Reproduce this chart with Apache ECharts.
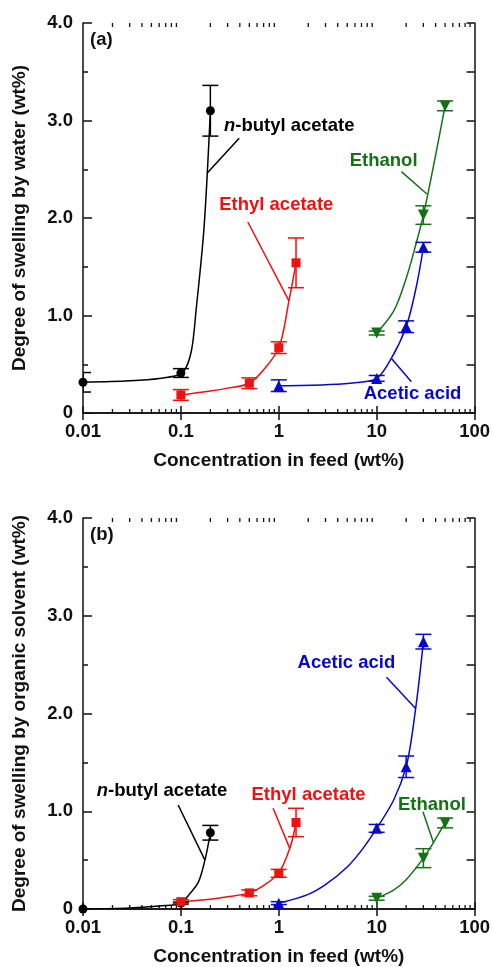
<!DOCTYPE html>
<html>
<head>
<meta charset="utf-8">
<script src="https://cdn.jsdelivr.net/npm/echarts@6/dist/echarts.min.js"></script>
<style>
  html, body { margin: 0; padding: 0; background: #fff; }
  #chart { width: 493px; height: 967px; }
</style>
</head>
<body>
<div id="chart"></div>
<script>
// ---------------- DATA ----------------
const xTickLabels = ['0.01', '0.1', '1', '10', '100'];
const yTickLabels = ['0', '1.0', '2.0', '3.0', '4.0'];
const logMinorTicks = [0.02,0.03,0.04,0.05,0.06,0.07,0.08,0.09,
                       0.2,0.3,0.4,0.5,0.6,0.7,0.8,0.9,
                       2,3,4,5,6,7,8,9,
                       20,30,40,50,60,70,80,90];
const panelLetters = ['(a)', '(b)'];
const yAxisTitles = ['Degree of swelling by water (wt%)', 'Degree of swelling by organic solvent (wt%)'];
const xAxisTitle = 'Concentration in feed (wt%)';
const solvents = ['n-butyl acetate', 'Ethyl acetate', 'Acetic acid', 'Ethanol'];

// Panel (a): swelling by water
const aButylConc = [0.01, 0.1, 0.2];
const aButylVal  = [0.315, 0.41, 3.10];
const aButylErr  = [0.10, 0.045, 0.26];
const aEthylConc = [0.1, 0.5, 1, 1.5];
const aEthylVal  = [0.185, 0.305, 0.67, 1.54];
const aEthylErr  = [0.055, 0.055, 0.06, 0.255];
const aAceticConc = [1, 10, 20, 30];
const aAceticVal  = [0.28, 0.355, 0.885, 1.70];
const aAceticErr  = [0.06, 0.03, 0.06, 0.05];
const aEthanolConc = [10, 30, 50];
const aEthanolVal  = [0.82, 2.03, 3.15];
const aEthanolErr  = [0.02, 0.095, 0.05];
// fitted curves (a)
const aButylFitX = [0.01, 0.03, 0.06, 0.1, 0.114, 0.1285, 0.1445, 0.1717, 0.1945, 0.2];
const aButylFitY = [0.315, 0.33, 0.355, 0.40, 0.475, 0.646, 1.10, 1.88, 2.84, 3.10];
const aEthylFitX = [0.1, 0.2, 0.3, 0.5, 0.72, 1, 1.27, 1.5];
const aEthylFitY = [0.185, 0.225, 0.255, 0.305, 0.458, 0.67, 1.15, 1.54];
const aAceticFitX = [1, 3, 6, 10, 14.1, 20, 25.4, 30];
const aAceticFitY = [0.28, 0.29, 0.31, 0.355, 0.56, 0.885, 1.295, 1.70];
const aEthanolFitX = [10, 15, 20, 25, 30, 50];
const aEthanolFitY = [0.82, 1.05, 1.38, 1.72, 2.03, 3.15];

// Panel (b): swelling by organic solvent
const bButylConc = [0.01, 0.1, 0.2];
const bButylVal  = [0.0, 0.06, 0.78];
const bButylErr  = [0.0, 0.01, 0.075];
const bEthylConc = [0.1, 0.5, 1, 1.5];
const bEthylVal  = [0.075, 0.165, 0.365, 0.885];
const bEthylErr  = [0.02, 0.03, 0.04, 0.145];
const bAceticConc = [1, 10, 20, 30];
const bAceticVal  = [0.06, 0.825, 1.455, 2.735];
const bAceticErr  = [0.015, 0.04, 0.11, 0.075];
const bEthanolConc = [10, 30, 50];
const bEthanolVal  = [0.11, 0.52, 0.88];
const bEthanolErr  = [0.02, 0.097, 0.05];
// fitted curves (b)
const bButylFitX = [0.01, 0.03, 0.06, 0.1, 0.124, 0.15, 0.176, 0.2];
const bButylFitY = [0.0, 0.01, 0.03, 0.06, 0.16, 0.27, 0.50, 0.78];
const bEthylFitX = [0.1, 0.2, 0.3, 0.5, 0.7, 1, 1.295, 1.5];
const bEthylFitY = [0.075, 0.10, 0.125, 0.165, 0.24, 0.37, 0.62, 0.88];
const bAceticFitX = [1, 2, 3, 5, 7, 10, 15, 20, 25, 30];
const bAceticFitY = [0.06, 0.15, 0.25, 0.43, 0.60, 0.825, 1.12, 1.455, 2.05, 2.735];
const bEthanolFitX = [10, 15, 20, 30, 38, 50];
const bEthanolFitY = [0.11, 0.195, 0.30, 0.52, 0.68, 0.88];

// ---------------- STYLE / LAYOUT ----------------
const FONT = '"Liberation Sans", Arial, Helvetica, sans-serif';
const AX = '#111';
const colors = ['#000000', '#f01010', '#0808cc', '#167016'];
const symbols = [
  { symbol: 'circle', size: 9, rotate: 0 },
  { symbol: 'rect', size: 9, rotate: 0 },
  { symbol: 'triangle', size: 11, rotate: 0 },
  { symbol: 'triangle', size: 11, rotate: 180 }
];
const labelTexts = ['{i|n}-butyl acetate', 'Ethyl acetate', 'Acetic acid', 'Ethanol'];

const panels = [
  {
    sets: [
      [aButylConc, aButylVal, aButylErr, aButylFitX, aButylFitY],
      [aEthylConc, aEthylVal, aEthylErr, aEthylFitX, aEthylFitY],
      [aAceticConc, aAceticVal, aAceticErr, aAceticFitX, aAceticFitY],
      [aEthanolConc, aEthanolVal, aEthanolErr, aEthanolFitX, aEthanolFitY]
    ],
    labelAt: [[0.275, 2.944], [0.246, 2.133], [7.36, 0.195], [5.3, 2.585]],
    leaders: [
      [[0.185, 2.458], [0.394, 2.817]],
      [[1.27, 1.15], [0.483, 1.959]],
      [[14.1, 0.561], [22.6, 0.321]],
      [[32.6, 2.246], [17.9, 2.475]]
    ],
    letterAt: [0.01178, 3.826],
    grid: { left: 83, top: 23, width: 392, height: 390 }
  },
  {
    sets: [
      [bButylConc, bButylVal, bButylErr, bButylFitX, bButylFitY],
      [bEthylConc, bEthylVal, bEthylErr, bEthylFitX, bEthylFitY],
      [bAceticConc, bAceticVal, bAceticErr, bAceticFitX, bAceticFitY],
      [bEthanolConc, bEthanolVal, bEthanolErr, bEthanolFitX, bEthanolFitY]
    ],
    labelAt: [[0.0138, 1.21], [0.526, 1.166], [1.553, 2.52], [16.5, 1.064]],
    leaders: [
      [[0.176, 0.50], [0.0938, 1.064]],
      [[1.295, 0.62], [0.875, 1.03]],
      [[25.0, 2.05], [12.6, 2.37]],
      [[38, 0.68], [29.7, 0.995]]
    ],
    letterAt: [0.01178, 3.826],
    grid: { left: 83, top: 518, width: 392, height: 391 }
  }
];

// centripetal Catmull-Rom spline through pixel points -> SVG path
function splinePath(pts) {
  const alpha = 0.5, eps = 1e-6;
  let d = 'M' + pts[0][0] + ',' + pts[0][1];
  for (let i = 0; i < pts.length - 1; i++) {
    const p0 = pts[i - 1] || pts[i], p1 = pts[i], p2 = pts[i + 1], p3 = pts[i + 2] || pts[i + 1];
    const l01 = Math.hypot(p1[0] - p0[0], p1[1] - p0[1]);
    const l12 = Math.hypot(p2[0] - p1[0], p2[1] - p1[1]);
    const l23 = Math.hypot(p3[0] - p2[0], p3[1] - p2[1]);
    const l01a = Math.pow(l01, alpha), l01_2a = Math.pow(l01, 2 * alpha);
    const l12a = Math.pow(l12, alpha), l12_2a = Math.pow(l12, 2 * alpha);
    const l23a = Math.pow(l23, alpha), l23_2a = Math.pow(l23, 2 * alpha);
    let c1 = [p1[0], p1[1]], c2 = [p2[0], p2[1]];
    if (l01a > eps) {
      const a = 2 * l01_2a + 3 * l01a * l12a + l12_2a, n = 3 * l01a * (l01a + l12a);
      c1 = [(p1[0] * a - p0[0] * l12_2a + p2[0] * l01_2a) / n,
            (p1[1] * a - p0[1] * l12_2a + p2[1] * l01_2a) / n];
    }
    if (l23a > eps) {
      const b = 2 * l23_2a + 3 * l23a * l12a + l12_2a, m = 3 * l23a * (l23a + l12a);
      c2 = [(p2[0] * b + p1[0] * l23_2a - p3[0] * l12_2a) / m,
            (p2[1] * b + p1[1] * l23_2a - p3[1] * l12_2a) / m];
    }
    d += ' C' + c1[0] + ',' + c1[1] + ' ' + c2[0] + ',' + c2[1] + ' ' + p2[0] + ',' + p2[1];
  }
  return d;
}

// ---------------- BUILD ----------------
const chart = echarts.init(document.getElementById('chart'), null, { renderer: 'canvas' });

const grids = [], xAxes = [], yAxes = [], series = [];
const tickStyle = { color: AX, width: 1.5 };

function xLabelFmt(v) {
  const i = Math.round(Math.log10(v)) + 2;
  return xTickLabels[i] !== undefined ? xTickLabels[i] : '';
}
function yLabelFmt(v) {
  const i = Math.round(v);
  return yTickLabels[i] !== undefined ? yTickLabels[i] : '';
}

panels.forEach((p, g) => {
  grids.push(Object.assign({ containLabel: false }, p.grid));
  xAxes.push({
    type: 'log', logBase: 10, gridIndex: g, min: 0.01, max: 100, position: 'bottom',
    axisLine: { show: true, lineStyle: { color: AX, width: 1.5 } },
    axisTick: { show: true, inside: true, length: 7, lineStyle: tickStyle },
    axisLabel: { margin: 9, fontSize: 18.5, fontWeight: 'bold', color: AX, fontFamily: FONT, formatter: xLabelFmt },
    splitLine: { show: false },
    name: xAxisTitle, nameLocation: 'middle', nameGap: 38,
    nameTextStyle: { fontSize: 19, fontWeight: 'bold', color: AX, fontFamily: FONT }
  });
  xAxes.push({
    type: 'log', logBase: 10, gridIndex: g, min: 0.01, max: 100, position: 'top',
    axisLine: { show: true, lineStyle: { color: AX, width: 1.5 } },
    axisTick: { show: true, inside: true, length: 7, lineStyle: tickStyle },
    axisLabel: { show: false }, splitLine: { show: false }
  });
  yAxes.push({
    type: 'value', gridIndex: g, min: 0, max: 4, interval: 1, position: 'left',
    axisLine: { show: true, onZero: false, lineStyle: { color: AX, width: 1.5 } },
    axisTick: { show: true, inside: true, length: 9, lineStyle: tickStyle },
    minorTick: { show: true, splitNumber: 2, length: 5, lineStyle: { color: AX, width: 1.5 } },
    axisLabel: { margin: 10, fontSize: 18.5, fontWeight: 'bold', color: AX, fontFamily: FONT, formatter: yLabelFmt },
    splitLine: { show: false },
    name: yAxisTitles[g], nameLocation: 'middle', nameGap: 54,
    nameTextStyle: { fontSize: 19, fontWeight: 'bold', color: AX, fontFamily: FONT }
  });
  yAxes.push({
    type: 'value', gridIndex: g, min: 0, max: 4, interval: 0.5, position: 'right',
    axisLine: { show: true, onZero: false, lineStyle: { color: AX, width: 1.5 } },
    axisTick: { show: true, inside: true, length: 8, lineStyle: tickStyle },
    axisLabel: { show: false }, splitLine: { show: false }
  });

  const xi = 2 * g, yi = 2 * g;

  // log minor ticks (bottom and top)
  series.push({
    type: 'custom', coordinateSystem: 'cartesian2d', xAxisIndex: xi, yAxisIndex: yi,
    silent: true, z: 1, clip: false,
    data: logMinorTicks.map(v => [v, 0]),
    encode: { x: 0, y: 1 },
    renderItem(params, api) {
      const cs = params.coordSys;
      const px = api.coord([api.value(0), 0])[0];
      const yb = cs.y + cs.height, yt = cs.y;
      const st = { stroke: AX, lineWidth: 1.3 };
      return { type: 'group', children: [
        { type: 'line', shape: { x1: px, y1: yb, x2: px, y2: yb - 4 }, style: st },
        { type: 'line', shape: { x1: px, y1: yt, x2: px, y2: yt + 4 }, style: st }
      ] };
    }
  });

  p.sets.forEach((s, k) => {
    const [cx, cv, ce, fx, fy] = s;
    const col = colors[k];
    // fitted curve (spline through read-off points, positioned by the axes)
    series.push({
      type: 'custom', coordinateSystem: 'cartesian2d', xAxisIndex: xi, yAxisIndex: yi,
      z: 2, silent: true, clip: true,
      data: fx.map((x, i) => [x, fy[i]]),
      encode: { x: 0, y: 1 },
      renderItem(params, api) {
        if (params.dataIndex !== 0) return null;
        const pts = fx.map((x, i) => api.coord([x, fy[i]]));
        return { type: 'path', shape: { pathData: splinePath(pts) },
                 style: { stroke: col, lineWidth: 1.5, fill: 'none' } };
      }
    });
    // error bars
    series.push({
      type: 'custom', coordinateSystem: 'cartesian2d', xAxisIndex: xi, yAxisIndex: yi,
      z: 3, silent: true, clip: true,
      data: cx.map((x, i) => [x, cv[i], ce[i]]),
      encode: { x: 0, y: 1 },
      renderItem(params, api) {
        const x = api.value(0), y = api.value(1), e = api.value(2);
        if (!(e > 0)) return null;
        const hi = api.coord([x, y + e]), lo = api.coord([x, y - e]);
        const cw = 8;
        const st = { stroke: col, lineWidth: 1.5 };
        return { type: 'group', children: [
          { type: 'line', shape: { x1: hi[0], y1: hi[1], x2: lo[0], y2: lo[1] }, style: st },
          { type: 'line', shape: { x1: hi[0] - cw, y1: hi[1], x2: hi[0] + cw, y2: hi[1] }, style: st },
          { type: 'line', shape: { x1: lo[0] - cw, y1: lo[1], x2: lo[0] + cw, y2: lo[1] }, style: st }
        ] };
      }
    });
    // markers
    series.push({
      type: 'scatter', xAxisIndex: xi, yAxisIndex: yi, z: 4, silent: true,
      data: cx.map((x, i) => [x, cv[i]]),
      symbol: symbols[k].symbol, symbolSize: symbols[k].size, symbolRotate: symbols[k].rotate,
      itemStyle: { color: col, opacity: 1 }
    });
    // leader line
    series.push({
      type: 'line', xAxisIndex: xi, yAxisIndex: yi, z: 2, silent: true,
      data: p.leaders[k], showSymbol: false, symbol: 'none',
      lineStyle: { color: col, width: 1.5 }
    });
    // label
    series.push({
      type: 'scatter', xAxisIndex: xi, yAxisIndex: yi, z: 5, silent: true,
      data: [p.labelAt[k]], symbolSize: 0.1,
      itemStyle: { color: 'rgba(0,0,0,0)', opacity: 1 },
      label: {
        show: true, position: 'right', distance: 0,
        formatter: labelTexts[k],
        color: col, fontSize: 18.5, fontWeight: 'bold', fontFamily: FONT, opacity: 1,
        rich: { i: { fontStyle: 'italic', fontWeight: 'bold', fontSize: 18.5, color: col, fontFamily: FONT } }
      }
    });
  });

  series.push({
    type: 'scatter', xAxisIndex: xi, yAxisIndex: yi, z: 5, silent: true,
    data: [p.letterAt], symbolSize: 0.1, itemStyle: { color: 'rgba(0,0,0,0)', opacity: 1 },
    label: { show: true, position: 'right', distance: 0, formatter: panelLetters[g],
      color: AX, fontSize: 18.5, fontWeight: 'bold', fontFamily: FONT, opacity: 1 }
  });
});

chart.setOption({
  animation: false,
  backgroundColor: '#fff',
  textStyle: { fontFamily: FONT },
  grid: grids, xAxis: xAxes, yAxis: yAxes, series: series
});
</script>
</body>
</html>
